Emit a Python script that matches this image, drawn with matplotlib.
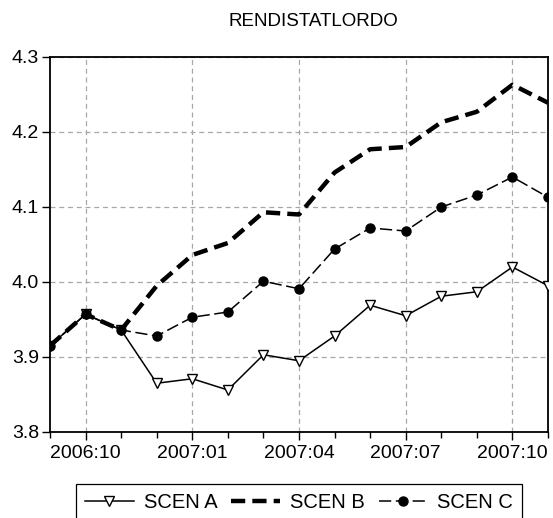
import matplotlib
matplotlib.use("Agg")
import matplotlib.pyplot as plt
from matplotlib.ticker import FixedLocator, MultipleLocator

plt.rcParams['font.family'] = ['Liberation Sans', 'DejaVu Sans']

months = ["2006:09", "2006:10", "2006:11", "2006:12", "2007:01", "2007:02", "2007:03",
          "2007:04", "2007:05", "2007:06", "2007:07", "2007:08", "2007:09", "2007:10", "2007:11"]
scen_a = [3.915, 3.957, 3.936, 3.865, 3.871, 3.856, 3.903, 3.895, 3.928, 3.969, 3.955,
          3.981, 3.987, 4.020, 3.995]
scen_b = [3.915, 3.957, 3.936, 3.995, 4.036, 4.052, 4.093, 4.090, 4.146, 4.177, 4.180,
          4.213, 4.227, 4.263, 4.239]
scen_c = [3.915, 3.957, 3.936, 3.928, 3.953, 3.960, 4.001, 3.991, 4.044, 4.072, 4.068,
          4.100, 4.116, 4.140, 4.113]
labeled = ["2006:10", "2007:01", "2007:04", "2007:07", "2007:10"]
title = "RENDISTATLORDO"

W, H = 553, 518
fig = plt.figure(figsize=(W / 100, H / 100), dpi=100)
ax = fig.add_axes([50 / W, 1 - 432 / H, (548 - 50) / W, (432 - 57) / H])

x = list(range(len(months)))
la, = ax.plot(x, scen_a, color='black', lw=1.1, marker='v', ms=7, mfc='white',
              mec='black', mew=1.0, label='SCEN A', zorder=3)
lb, = ax.plot(x, scen_b, color='black', lw=3.2, dashes=(3.2, 1.6), label='SCEN B', zorder=4)
lc, = ax.plot(x, scen_c, color='black', lw=1.1, dashes=(8, 3), marker='o', ms=6.5,
              mfc='black', mec='black', label='SCEN C', zorder=5)

ax.set_xlim(0, len(months) - 1)
ax.set_ylim(3.8, 4.3)
major_pos = [months.index(m) for m in labeled]
ax.xaxis.set_major_locator(FixedLocator(major_pos))
ax.set_xticklabels(labeled)
ax.xaxis.set_minor_locator(FixedLocator(x))
ax.yaxis.set_major_locator(MultipleLocator(0.1))
ax.yaxis.set_major_formatter(matplotlib.ticker.FormatStrFormatter('%.1f'))

ax.grid(True, which='major', color='#a8a8a8', lw=0.9, ls=(0, (4, 3)))
ax.tick_params(axis='both', which='major', direction='out', length=6, width=1.0,
               labelsize=14, color='black')
ax.tick_params(axis='x', which='minor', direction='out', length=4, width=1.0)
ax.tick_params(axis='x', which='major', pad=3)
ax.tick_params(axis='y', which='major', pad=2)
for s in ax.spines.values():
    s.set_linewidth(1.3)
    s.set_color('black')

fig.text(313 / W, 1 - 21 / H, title, ha='center', va='center', fontsize=13.5)

leg = fig.legend(handles=[la, lb, lc], loc='upper center', ncol=3,
                 bbox_to_anchor=(299 / W, 1 - 484 / H), fontsize=14.5,
                 frameon=True, fancybox=False, edgecolor='black', framealpha=1,
                 handlelength=2.4, handletextpad=0.5, columnspacing=0.7,
                 borderpad=0.45, borderaxespad=0)
leg.get_frame().set_linewidth(0.9)

fig.savefig("out.png", dpi=100)
